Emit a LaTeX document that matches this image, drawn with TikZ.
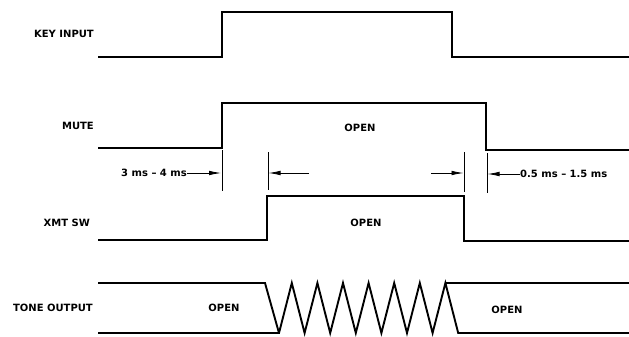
\documentclass[tikz,border=0pt]{standalone}
\usepackage{fontspec}
\setmainfont{DejaVu Sans}
\usetikzlibrary{arrows.meta}
\begin{document}
\begin{tikzpicture}[x=1pt,y=-1pt,
  sig/.style={line width=1.9pt,line join=miter},
  tick/.style={line width=0.9pt},
  dimarrow/.style={line width=0.8pt,-{Latex[length=12pt,width=4.6pt]}},
  lbl/.style={font=\fontsize{10}{12}\selectfont\bfseries,inner sep=0pt,anchor=east},
  txt/.style={font=\fontsize{10}{12}\selectfont\bfseries,inner sep=0pt}]
\useasboundingbox (0,0) rectangle (629,337);
% labels
\node[lbl] (lkey) at (94,34) {KEY INPUT};
\node[lbl] (lmute) at (94,126) {MUTE};
\node[lbl] (lxmt) at (90,223) {XMT SW};
\node[lbl] (ltone) at (93,308) {TONE OUTPUT};
% KEY INPUT
\draw[sig] (98,57) -- (222,57) -- (222,12) -- (452,12) -- (452,57) -- (629,57);
% MUTE
\draw[sig] (98,148) -- (222,148) -- (222,103) -- (486,103) -- (486,150) -- (629,150);
\node[txt] (omute) at (360,128) {OPEN};
% XMT SW
\draw[sig] (98,240) -- (267,240) -- (267,196) -- (464,196) -- (464,241) -- (629,241);
\node[txt] (oxmt) at (366,223) {OPEN};
% timing ticks
\coordinate (t1a) at (222,150); \coordinate (t1b) at (222,191);
\coordinate (t2a) at (268,152); \coordinate (t2b) at (268,190);
\coordinate (t3a) at (464,152); \coordinate (t3b) at (464,192);
\coordinate (t4a) at (487,153); \coordinate (t4b) at (487,193);
\draw[tick] (t1a) -- (t1b);
\draw[tick] (t2a) -- (t2b);
\draw[tick] (t3a) -- (t3b);
\draw[tick] (t4a) -- (t4b);
\node[txt,anchor=east] (d1) at (187,173) {3 ms -- 4 ms};
\coordinate (a1) at (221,173);
\draw[dimarrow] (d1.east) -- (a1);
\coordinate (a2s) at (309,173); \coordinate (a2e) at (268.5,173);
\draw[dimarrow] (a2s) -- (a2e);
\coordinate (a3s) at (431,173); \coordinate (a3e) at (463.5,173);
\draw[dimarrow] (a3s) -- (a3e);
\node[txt,anchor=west] (d2) at (520,174) {0.5 ms -- 1.5 ms};
\coordinate (a4) at (487.5,174);
\draw[dimarrow] (d2.west) -- (a4);
% TONE OUTPUT
\draw[sig] (98,283) -- (265,283) -- (279,333);
\draw[sig] (98,333) -- (279,333)
  \foreach \i in {0,...,6} { -- ({291.8+25.6*\i},283) -- ({304.6+25.6*\i},333) }
  -- (629,333);
\draw[sig] (445.8,283) -- (629,283);
\node[txt] (otone1) at (224,308) {OPEN};
\node[txt] (otone2) at (507,310) {OPEN};
\end{tikzpicture}
\end{document}
